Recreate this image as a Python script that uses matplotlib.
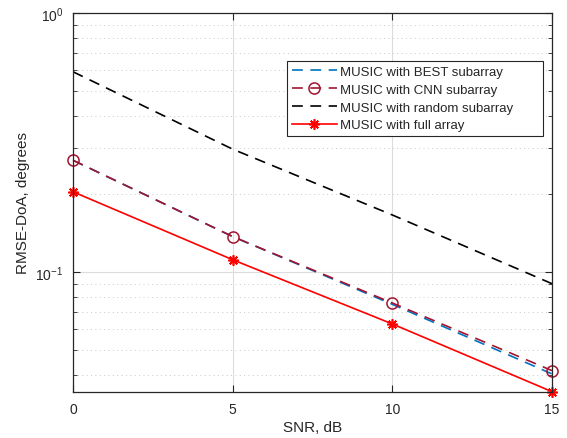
import matplotlib
matplotlib.use("Agg")
import matplotlib.pyplot as plt
from matplotlib.ticker import LogLocator, NullFormatter, FixedLocator

snr = [0, 5, 10, 15]
rmse_best = [0.270, 0.137, 0.0750, 0.0404]
rmse_cnn = [0.270, 0.137, 0.0759, 0.0416]
rmse_random = [0.593, 0.298, 0.166, 0.0901]
rmse_full = [0.204, 0.1115, 0.0630, 0.0345]

labels = ["MUSIC with BEST subarray", "MUSIC with CNN subarray",
          "MUSIC with random subarray", "MUSIC with full array"]

plt.rcParams['font.family'] = ['Liberation Sans', 'DejaVu Sans']
txt = '#262626'

fig = plt.figure(figsize=(5.67, 4.39), dpi=100)
ax = fig.add_axes([73/567, 1-393/439, (552-73)/567, (393-14)/439])

dash = (6.5, 4.5)
l1, = ax.plot(snr, rmse_best, color=(0, 0.447, 0.741), lw=1.2, dashes=dash)
l2, = ax.plot(snr, rmse_cnn, color=(0.635, 0.078, 0.184), lw=1.2, dashes=dash,
              marker='o', markersize=8, markerfacecolor='none', markeredgewidth=1.1)
l3, = ax.plot(snr, rmse_random, color='black', lw=1.2, dashes=dash)
l4, = ax.plot(snr, rmse_full, color='red', lw=1.2, marker=(8, 2, 0), markersize=7.5,
              markeredgewidth=1.2, clip_on=False)
l2.set_clip_on(False)

ax.set_yscale('log')
ax.set_xlim(0, 15)
ax.set_ylim(0.0344, 1)
ax.xaxis.set_major_locator(FixedLocator([0, 5, 10, 15]))
ax.yaxis.set_major_locator(LogLocator(base=10, numticks=10))
ax.yaxis.set_minor_locator(LogLocator(base=10, subs=range(2, 10), numticks=20))
ax.yaxis.set_minor_formatter(NullFormatter())

ax.grid(True, which='major', color='#dcdcdc', lw=0.8, ls='-')
ax.grid(True, which='minor', axis='y', color='#c8c8c8', lw=0.7, ls=(0, (1, 3.5)))
ax.set_axisbelow(True)

for s in ax.spines.values():
    s.set_color(txt)
    s.set_linewidth(0.9)
ax.tick_params(which='both', direction='in', top=True, right=True, colors=txt,
               labelsize=10)
ax.tick_params(which='major', length=5, width=0.8, pad=7)
ax.tick_params(which='minor', length=3, width=0.6)
ax.tick_params(axis='x', which='minor', bottom=False, top=False)

ax.set_xlabel('SNR, dB', fontsize=11, color=txt, labelpad=3)
ax.set_ylabel('RMSE-DoA, degrees', fontsize=11, color=txt)

w = 256/567
h = 77/439
leg = ax.legend([l1, l2, l3, l4], labels, loc='upper left', mode='expand',
                bbox_to_anchor=(286.7/567, 1-61.7/439-h, w, h), bbox_transform=fig.transFigure,
                fontsize=9.5, frameon=True, fancybox=False, framealpha=1,
                edgecolor=txt, handlelength=3.4, handletextpad=0.25,
                labelspacing=0.42, borderpad=0.38, borderaxespad=0)
leg.get_frame().set_linewidth(0.8)
for t in leg.get_texts():
    t.set_color(txt)

fig.savefig('out.png', dpi=100)
